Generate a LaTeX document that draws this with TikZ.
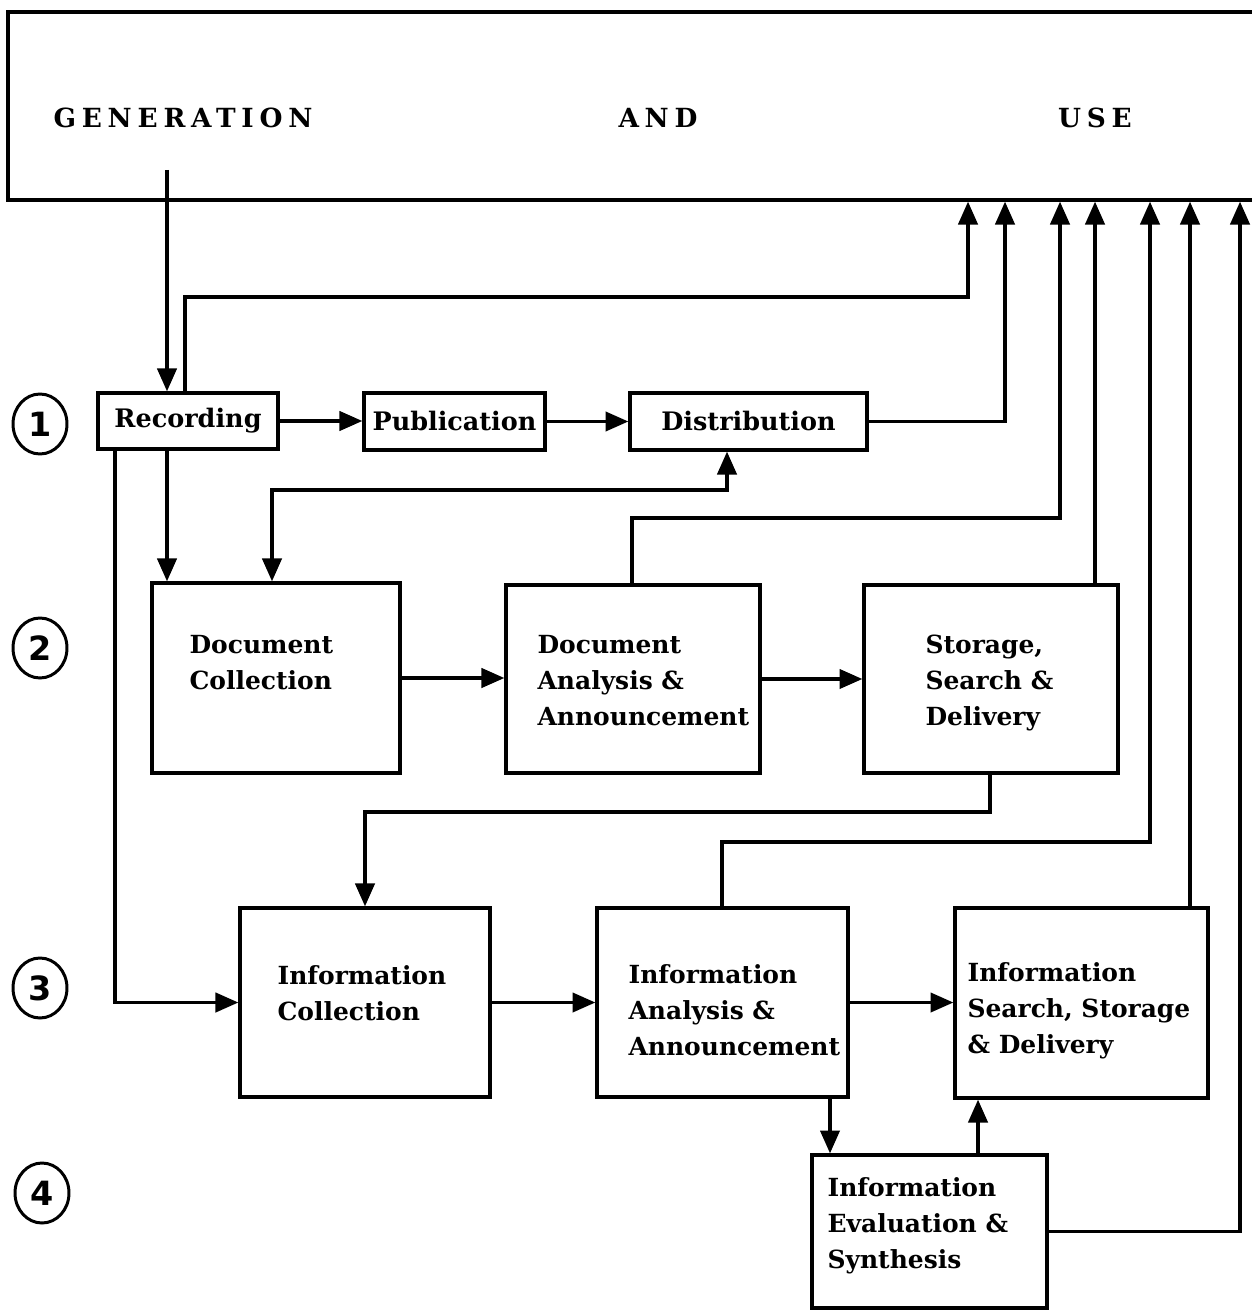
\documentclass[tikz,border=0pt]{standalone}
\usepackage{fontspec}
\setmainfont{DejaVu Serif}
\newfontfamily\genfont{DejaVu Serif}[LetterSpace=22]
\newfontfamily\numfont{DejaVu Sans}
\usetikzlibrary{arrows.meta,fit,shapes.geometric}
\begin{document}
\begin{tikzpicture}[x=0.02cm,y=-0.02cm,
  line width=1.8pt,
  box/.style={draw,rectangle,inner sep=0pt,line width=1.9pt},
  lbl/.style={anchor=west,align=left,inner sep=0pt,font=\fontsize{14.2}{20.5}\selectfont\bfseries},
  clbl/.style={inner sep=0pt,font=\fontsize{14.5}{20.5}\selectfont\bfseries},
  arr/.style={-{Triangle[length=13pt,width=11pt]}},
  arrboth/.style={{Triangle[length=13pt,width=11pt]}-{Triangle[length=13pt,width=11pt]}},
  numc/.style={draw,ellipse,minimum width=1.08cm,minimum height=1.2cm,inner sep=0pt,line width=1.7pt,font=\numfont\fontsize{19}{19}\selectfont\bfseries},
  hdr/.style={inner sep=0pt,font=\genfont\fontsize{15}{15}\selectfont\bfseries}
]
\useasboundingbox (0,0) rectangle (1251,1310);

% top block (open at the right edge)
\node[box,fit={(8,12) (1275,200)}] (gen) {};
\node[hdr] (hG) at (183,118) {GENERATION};
\node[hdr] (hA) at (658,118) {AND};
\node[hdr] (hU) at (1095,118) {USE};

% level markers
\node[numc] (n1) at (40,424) {1};
\node[numc] (n2) at (40,648) {2};
\node[numc] (n3) at (40,988) {3};
\node[numc] (n4) at (42,1193) {4};

% boxes
\node[box,fit={(98,393) (278,449)}] (rec) {};
\node[box,fit={(364,393) (545,450)}] (pub) {};
\node[box,fit={(630,393) (867,450)}] (dist) {};
\node[box,fit={(152,583) (400,773)}] (dc) {};
\node[box,fit={(506,585) (760,773)}] (da) {};
\node[box,fit={(864,585) (1118,773)}] (ssd) {};
\node[box,fit={(240,908) (490,1097)}] (ic) {};
\node[box,fit={(597,908) (848,1097)}] (ia) {};
\node[box,fit={(955,908) (1208,1098)}] (is) {};
\node[box,fit={(812,1155) (1047,1308)}] (ie) {};

% texts
\node[clbl] (recT) at (rec.center) {Recording};
\node[clbl] (pubT) at (pub.center) {Publication};
\node[clbl] (distT) at (dist.center) {Distribution};
\node[lbl] (dcT) at (188,663) {Document\\Collection};
\node[lbl] (daT) at (536,681) {Document\\Analysis \&\\Announcement};
\node[lbl] (ssdT) at (924,683) {Storage,\\Search \&\\Delivery};
\node[lbl] (icT) at (276,993) {Information\\Collection};
\node[lbl] (iaT) at (627,1010) {Information\\Analysis \&\\Announcement};
\node[lbl] (isT) at (966,1011) {Information\\Search, Storage\\\& Delivery};
\node[lbl] (ieT) at (826,1226) {Information\\Evaluation \&\\Synthesis};

% bend points
\coordinate (gin) at (167,170);
\coordinate (b1) at (185,297);
\coordinate (b2) at (272,490);
\coordinate (b3) at (632,518);
\coordinate (b4) at (990,812);
\coordinate (b5) at (722,842);

% connectors
\draw[arr] (gin) -- (rec.north -| gin);
\draw[arr] (rec.east) -- (pub.west |- rec.east);
\draw[arr] (pub.east) -- (dist.west |- pub.east);
\draw[arr] (rec.north -| b1) -- (b1) -| (gen.south -| 968,0);
\draw[arr] (dist.east) -| (gen.south -| 1005,0);
\draw[arr] (rec.south -| 167,0) -- (dc.north -| 167,0);
\draw[arr] (rec.south -| 115,0) |- (ic.west);
\draw[arrboth] (dc.north -| b2) -- (b2) -| (dist.south -| 727,0);
\draw[arr] (dc.east) -- (da.west |- dc.east);
\draw[arr] (da.east) -- (ssd.west |- da.east);
\draw[arr] (da.north -| b3) -- (b3) -| (gen.south -| 1060,0);
\draw[arr] (ssd.north -| 1095,0) -- (gen.south -| 1095,0);
\draw[arr] (ssd.south -| b4) -- (b4) -| (ic.north -| 365,0);
\draw[arr] (ic.east) -- (ia.west |- ic.east);
\draw[arr] (ia.east) -- (is.west |- ia.east);
\draw[arr] (ia.north -| b5) -- (b5) -| (gen.south -| 1150,0);
\draw[arr] (is.north -| 1190,0) -- (gen.south -| 1190,0);
\draw[arr] (ia.south -| 830,0) -- (ie.north -| 830,0);
\draw[arr] (ie.north -| 978,0) -- (is.south -| 978,0);
\draw[arr] (ie.east) -| (gen.south -| 1240,0);
\end{tikzpicture}
\end{document}
